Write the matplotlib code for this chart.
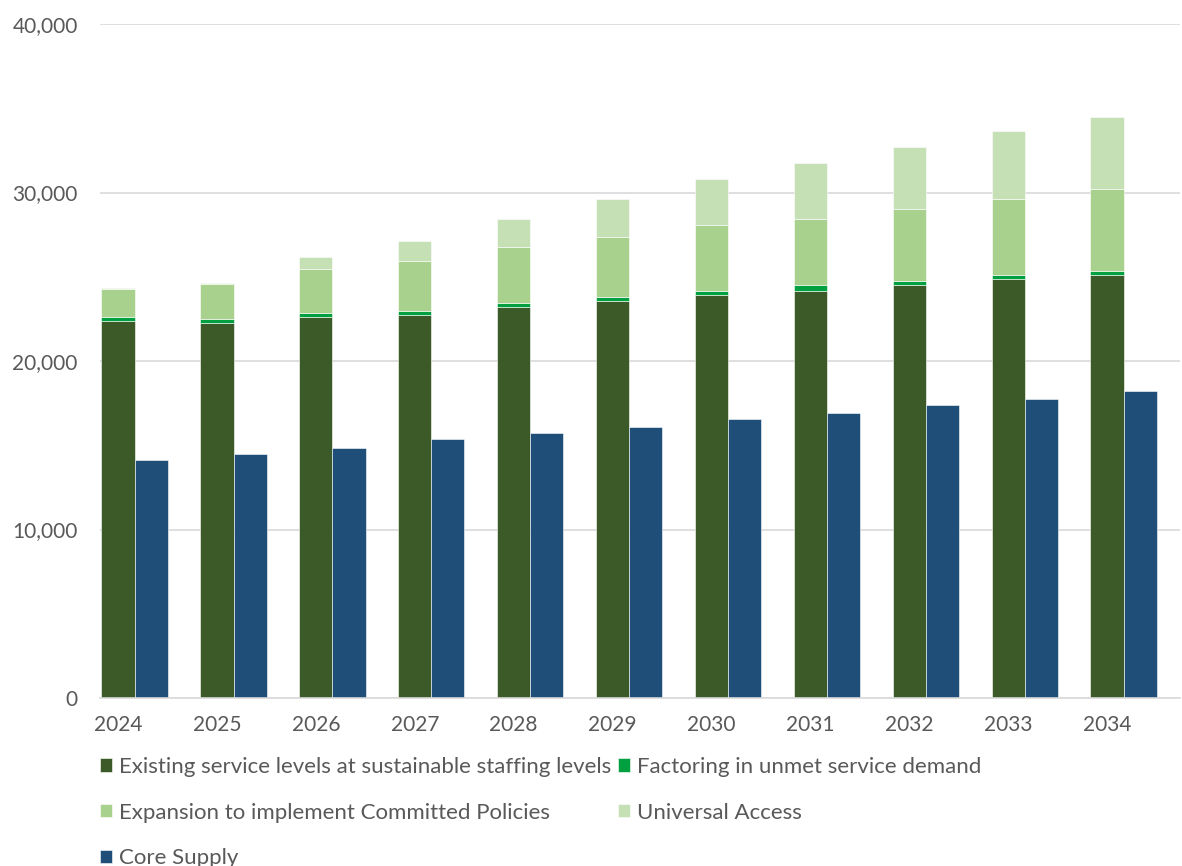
import matplotlib.pyplot as plt
import numpy as np
from matplotlib.ticker import FuncFormatter

years = ["2024", "2025", "2026", "2027", "2028", "2029", "2030", "2031", "2032", "2033", "2034"]

existing = [22370, 22250, 22590, 22710, 23190, 23540, 23920, 24130, 24490, 24850, 25090]
unmet = [260, 240, 280, 260, 250, 260, 210, 380, 260, 250, 250]
committed = [1640, 2100, 2590, 2960, 3310, 3560, 3940, 3920, 4270, 4510, 4870]
universal = [60, 60, 730, 1170, 1660, 2230, 2710, 3320, 3660, 4040, 4290]
core_supply = [14120, 14480, 14840, 15370, 15730, 16080, 16540, 16900, 17390, 17730, 18200]

labels = [
    "Existing service levels at sustainable staffing levels",
    "Factoring in unmet service demand",
    "Expansion to implement Committed Policies",
    "Universal Access",
    "Core Supply",
]
colors = ["#3C5A27", "#00A040", "#A9D18E", "#C5E0B4", "#1F4E79"]

plt.rcParams['font.family'] = ['Lato', 'DejaVu Sans']
TEXT = "#595959"

fig = plt.figure(figsize=(11.82, 8.66), dpi=100)
ax = fig.add_axes([100 / 1182, 168 / 866, 1080 / 1182, 674 / 866])

x = np.arange(len(years))
w = 0.335
ex = np.array(existing)
un = np.array(unmet)
cm = np.array(committed)
ua = np.array(universal)

edge = dict(edgecolor="white", linewidth=0.4)
b1 = ax.bar(x - w / 2, ex, w, color=colors[0], **edge)
b2 = ax.bar(x - w / 2, un, w, bottom=ex, color=colors[1], **edge)
b3 = ax.bar(x - w / 2, cm, w, bottom=ex + un, color=colors[2], **edge)
b4 = ax.bar(x - w / 2, ua, w, bottom=ex + un + cm, color=colors[3], **edge)
b5 = ax.bar(x + w / 2, core_supply, w, color=colors[4], **edge)

ax.set_xlim(-0.35, 10.57)
ax.set_ylim(0, 40000)
ax.set_yticks(np.arange(0, 40001, 10000))
ax.yaxis.set_major_formatter(FuncFormatter(lambda v, p: f"{int(v):,}"))
ax.set_xticks(x - w / 2)
ax.set_xticklabels(years)

ax.grid(axis="y", color="#D9D9D9", linewidth=1.2)
ax.set_axisbelow(True)
for s in ["top", "right", "left"]:
    ax.spines[s].set_visible(False)
ax.spines["bottom"].set_color("#D9D9D9")
ax.spines["bottom"].set_linewidth(1.2)
ax.tick_params(axis="both", length=0, labelsize=15, labelcolor=TEXT)
ax.tick_params(axis="y", pad=16)
ax.tick_params(axis="x", pad=12)

handles = [b1, b3, b5, b2, b4]
leg_labels = [labels[0], labels[2], labels[4], labels[1], labels[3]]
fig.legend(handles, leg_labels, loc="upper left", bbox_to_anchor=(100 / 1182, 1 - 757 / 866),
           ncol=2, frameon=False, fontsize=16, labelcolor=TEXT, borderaxespad=0, borderpad=0,
           handlelength=0.55, handleheight=0.55, handletextpad=0.3, columnspacing=0.3,
           labelspacing=1.15)

fig.savefig("out.png", dpi=100)
